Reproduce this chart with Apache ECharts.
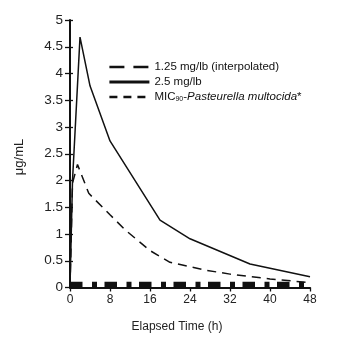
<!DOCTYPE html>
<html><head><meta charset="utf-8">
<script src="https://cdn.jsdelivr.net/npm/echarts@6/dist/echarts.min.js"></script>
<style>html,body{margin:0;padding:0;background:#fff}#c{width:347px;height:339px}</style>
</head><body><div id="c"></div>
<script>
// Data
const hours25 = [0, 0.5, 2, 4, 8, 18, 24, 36, 48];
const conc25 = [0, 2.0, 4.68, 3.77, 2.74, 1.26, 0.91, 0.44, 0.20];
const hours125 = [0, 0.5, 1.5, 3.75, 8, 11, 16, 20, 27.4, 32, 40, 48];
const conc125 = [0, 1.95, 2.3, 1.76, 1.36, 1.08, 0.69, 0.47, 0.32, 0.25, 0.16, 0.09];
const micHours = [0, 48];
const micConc = [0.05, 0.05];
const seriesNames = ['1.25 mg/lb (interpolated)', '2.5 mg/lb', 'MIC90-Pasteurella multocida*'];
const xTickValues = [0, 8, 16, 24, 32, 40, 48];
const yTickValues = [0, 0.5, 1, 1.5, 2, 2.5, 3, 3.5, 4, 4.5, 5];
const xTitle = 'Elapsed Time (h)';
const yTitle = 'μg/mL';

const FONT = "'Liberation Sans', Arial, sans-serif";
const zip = (a, b) => a.map((v, i) => [v, b[i]]);

const chart = echarts.init(document.getElementById('c'), null, {renderer: 'canvas'});
const yFmt = v => yTickValues.includes(v) ? String(v) : '';
chart.setOption({
  animation: false,
  backgroundColor: '#fff',
  grid: {left: 70, right: 37, top: 20, bottom: 51.5},
  xAxis: {
    type: 'value', min: 0, max: 48, interval: 8,
    axisLine: {lineStyle: {color: '#111', width: 2}},
    axisTick: {length: 4, lineStyle: {color: '#111', width: 1.3}},
    axisLabel: {margin: 6, color: '#222', fontFamily: FONT, fontSize: 12,
      formatter: v => xTickValues.includes(v) ? String(v) : ''},
    splitLine: {show: false}
  },
  yAxis: [{
    type: 'value', min: 0, max: 5, interval: 0.5,
    axisLine: {show: true, lineStyle: {color: '#111', width: 2}},
    axisTick: {show: true, length: 5, lineStyle: {color: '#111', width: 1.3}},
    axisLabel: {margin: 7, color: '#222', fontFamily: FONT, fontSize: 13.5, formatter: yFmt},
    splitLine: {show: false}
  }, {
    type: 'value', min: 0, max: 5, interval: 0.5, position: 'left',
    axisLine: {show: false},
    axisTick: {show: true, inside: true, length: 3, lineStyle: {color: '#111', width: 1.3}},
    axisLabel: {show: false},
    splitLine: {show: false}
  }],
  legend: {
    orient: 'vertical', left: 103, top: 56,
    itemWidth: 40, itemHeight: 12, itemGap: 3,
    itemStyle: {opacity: 0},
    textStyle: {fontFamily: FONT, fontSize: 11.5, color: '#111',
      rich: {
        n: {fontFamily: FONT, fontSize: 11.5, color: '#111'},
        sub: {fontFamily: FONT, fontSize: 7, color: '#111', padding: [5, 0, 0, 0]},
        it: {fontFamily: FONT, fontSize: 11.5, fontStyle: 'italic', color: '#111'}
      }},
    formatter: name => name === seriesNames[2]
      ? '{n|MIC}{sub|90}{n|-}{it|Pasteurella multocida}{n|*}' : name,
    data: [
      {name: seriesNames[0], lineStyle: {width: 2.5, type: [15, 9], color: '#111'}},
      {name: seriesNames[1], lineStyle: {width: 2.8, type: 'solid', color: '#111'}},
      {name: seriesNames[2], lineStyle: {width: 2.5, type: [8, 6], color: '#111'}}
    ]
  },
  series: [
    {name: seriesNames[0], type: 'line', data: zip(hours125, conc125), symbol: 'none',
      lineStyle: {color: '#111', width: 1.5, type: [9, 6]}, itemStyle: {color: '#111'}, z: 3},
    {name: seriesNames[1], type: 'line', data: zip(hours25, conc25), symbol: 'none',
      lineStyle: {color: '#111', width: 1.5}, itemStyle: {color: '#111'}, z: 4},
    {name: seriesNames[2], type: 'line', data: zip(micHours, micConc), symbol: 'none',
      lineStyle: {color: '#111', width: 6, type: [12.5, 9.5, 5, 7.5], cap: 'butt'},
      itemStyle: {color: '#111'}, z: 2}
  ],
  graphic: [
    {type: 'text', x: 19, y: 157, rotation: Math.PI / 2,
      style: {text: yTitle, fontFamily: FONT, fontSize: 13, fill: '#222', align: 'center', verticalAlign: 'middle'}},
    {type: 'text', x: 177, y: 327,
      style: {text: xTitle, fontFamily: FONT, fontSize: 12, fill: '#222', align: 'center', verticalAlign: 'middle'}}
  ]
});
</script>
</body></html>
